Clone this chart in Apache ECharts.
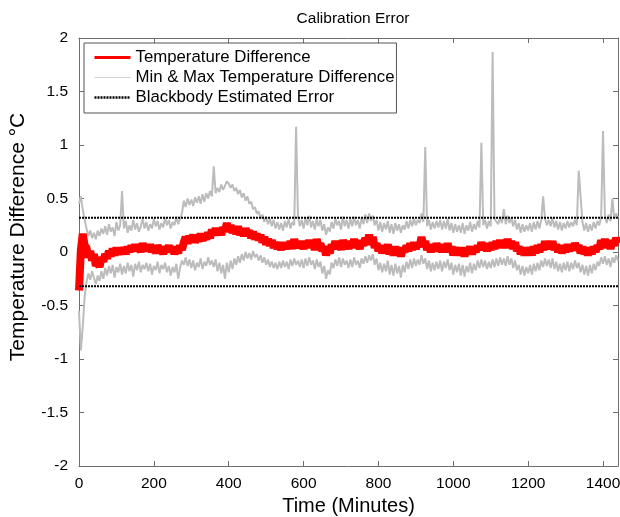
<!DOCTYPE html>
<html>
<head>
<meta charset="utf-8">
<script src="https://cdn.jsdelivr.net/npm/echarts@6/dist/echarts.min.js"></script>
<style>html,body{margin:0;padding:0;background:#fff}#c{width:620px;height:517px}</style>
</head>
<body>
<div id="c"></div>
<script>
// Sampling step of the time axis (minutes)
var timeStep = 5;
var xTicks = [0, 200, 400, 600, 800, 1000, 1200, 1400];
var yTicks = [-2, -1.5, -1, -0.5, 0, 0.5, 1, 1.5, 2];
var blackbodyError = 0.32;

var tempDiff = [
 -0.36, 0.02, 0.17, 0.06, 0.04, -0.05, 0.01, -0.08, -0.02, -0.13, -0.09, -0.14,
 -0.05, -0.09, -0.02, -0.06, 0.01, -0.04, 0.03, -0.03, 0.04, -0.02, 0.03, -0.01,
 0.04, -0.02, 0.05, 0.0, 0.06, 0.01, 0.07, 0.02, 0.05, 0.0, 0.08, 0.02,
 0.06, 0.01, 0.07, 0.0, 0.05, -0.01, 0.06, 0.02, 0.04, -0.02, 0.05, 0.01,
 0.06, 0.0, 0.05, -0.02, 0.04, -0.01, 0.06, 0.02, 0.09, 0.14, 0.08, 0.15,
 0.10, 0.16, 0.09, 0.14, 0.10, 0.17, 0.11, 0.15, 0.12, 0.18, 0.13, 0.21,
 0.16, 0.22, 0.17, 0.21, 0.16, 0.23, 0.19, 0.27, 0.20, 0.25, 0.18, 0.23,
 0.17, 0.24, 0.16, 0.21, 0.15, 0.22, 0.17, 0.20, 0.13, 0.19, 0.12, 0.17,
 0.11, 0.16, 0.09, 0.14, 0.07, 0.12, 0.06, 0.11, 0.04, 0.09, 0.03, 0.08,
 0.02, 0.09, 0.03, 0.08, 0.04, 0.10, 0.03, 0.12, 0.05, 0.10, 0.04, 0.09,
 0.03, 0.10, 0.04, 0.11, 0.05, 0.09, 0.02, 0.12, 0.04, 0.08, 0.01, 0.05,
 -0.03, 0.03, -0.01, 0.07, 0.03, 0.10, 0.04, 0.09, 0.02, 0.11, 0.05, 0.08,
 0.03, 0.10, 0.04, 0.12, 0.05, 0.09, 0.03, 0.11, 0.06, 0.13, 0.07, 0.16,
 0.09, 0.14, 0.04, 0.08, 0.01, 0.06, -0.01, 0.05, 0.0, 0.07, -0.02, 0.04,
 -0.03, 0.05, -0.02, 0.04, -0.04, 0.03, 0.0, 0.06, 0.01, 0.08, 0.02, 0.09,
 0.03, 0.08, 0.05, 0.14, 0.06, 0.10, 0.02, 0.07, 0.0, 0.06, 0.01, 0.08,
 0.02, 0.07, 0.0, 0.06, 0.01, 0.08, 0.0, 0.05, -0.03, 0.04, -0.02, 0.03,
 -0.03, 0.04, -0.04, 0.03, -0.01, 0.05, -0.02, 0.04, 0.0, 0.06, 0.02, 0.09,
 0.03, 0.08, 0.01, 0.07, 0.02, 0.09, 0.03, 0.10, 0.04, 0.11, 0.05, 0.10,
 0.04, 0.12, 0.05, 0.10, 0.03, 0.09, 0.01, 0.05, -0.02, 0.04, -0.03, 0.03,
 -0.02, 0.04, -0.03, 0.05, -0.01, 0.06, 0.0, 0.07, 0.02, 0.10, 0.04, 0.09,
 0.03, 0.10, 0.02, 0.07, 0.0, 0.06, -0.01, 0.05, 0.0, 0.07, 0.01, 0.06,
 0.02, 0.08, 0.03, 0.06, -0.01, 0.05, -0.02, 0.03, -0.03, 0.04, -0.02, 0.05,
 0.0, 0.06, 0.03, 0.11, 0.05, 0.12, 0.04, 0.10, 0.03, 0.11, 0.06, 0.13,
 0.08
];

var maxDiff = [
 0.45, 0.52, 0.40, 0.30, 0.22, 0.15, 0.20, 0.13, 0.18, 0.12, 0.20, 0.15,
 0.22, 0.17, 0.24, 0.16, 0.26, 0.19, 0.23, 0.15, 0.28, 0.20, 0.25, 0.57,
 0.22, 0.29, 0.18, 0.25, 0.20, 0.30, 0.21, 0.27, 0.19, 0.24, 0.31, 0.22,
 0.28, 0.20, 0.26, 0.22, 0.31, 0.24, 0.29, 0.21, 0.27, 0.23, 0.32, 0.25,
 0.30, 0.22, 0.28, 0.25, 0.33, 0.26, 0.31, 0.36, 0.48, 0.42, 0.50, 0.44,
 0.49, 0.43, 0.51, 0.46, 0.52, 0.45, 0.54, 0.47, 0.55, 0.50, 0.57, 0.52,
 0.80, 0.55, 0.60, 0.56, 0.63, 0.58, 0.62, 0.66, 0.64, 0.60, 0.63, 0.57,
 0.60, 0.54, 0.58, 0.51, 0.55, 0.48, 0.52, 0.45, 0.47, 0.40, 0.42, 0.36,
 0.38, 0.31, 0.35, 0.28, 0.33, 0.26, 0.31, 0.24, 0.30, 0.22, 0.28, 0.21,
 0.27, 0.20, 0.29, 0.23, 0.31, 0.22, 0.28, 0.25, 1.17, 0.33, 0.24, 0.30,
 0.22, 0.32, 0.25, 0.34, 0.23, 0.29, 0.21, 0.31, 0.24, 0.30, 0.20, 0.26,
 0.16, 0.23, 0.19, 0.28, 0.22, 0.31, 0.25, 0.29, 0.21, 0.33, 0.24, 0.30,
 0.22, 0.31, 0.24, 0.33, 0.25, 0.30, 0.22, 0.32, 0.26, 0.35, 0.27, 0.36,
 0.29, 0.34, 0.25, 0.30, 0.20, 0.28, 0.19, 0.27, 0.21, 0.29, 0.18, 0.26,
 0.17, 0.27, 0.20, 0.26, 0.18, 0.25, 0.21, 0.29, 0.22, 0.30, 0.24, 0.31,
 0.25, 0.30, 0.27, 0.36, 0.28, 0.98, 0.24, 0.30, 0.21, 0.28, 0.22, 0.29,
 0.23, 0.30, 0.21, 0.29, 0.22, 0.31, 0.20, 0.27, 0.18, 0.26, 0.19, 0.25,
 0.18, 0.27, 0.17, 0.25, 0.20, 0.28, 0.19, 0.26, 0.21, 0.29, 0.23, 1.02,
 0.25, 0.30, 0.22, 0.29, 0.24, 1.87, 0.31, 0.32, 0.26, 0.33, 0.27, 0.40,
 0.26, 0.34, 0.27, 0.32, 0.24, 0.30, 0.21, 0.27, 0.18, 0.26, 0.19, 0.25,
 0.20, 0.27, 0.19, 0.28, 0.21, 0.29, 0.22, 0.30, 0.52, 0.31, 0.25, 0.30,
 0.24, 0.32, 0.23, 0.29, 0.21, 0.28, 0.20, 0.27, 0.22, 0.29, 0.23, 0.28,
 0.24, 0.30, 0.25, 0.76, 0.75, 0.28, 0.20, 0.27, 0.19, 0.26, 0.20, 0.28,
 0.22, 0.29, 0.25, 0.33, 1.13, 0.34, 0.27, 0.35, 0.29, 0.50, 0.31, 0.36,
 0.32
];

var minDiff = [
 -0.55, -0.92, -0.70, -0.42, -0.28, -0.20, -0.26, -0.18, -0.24, -0.30, -0.22, -0.27,
 -0.18, -0.25, -0.15, -0.22, -0.13, -0.20, -0.12, -0.24, -0.14, -0.19, -0.11, -0.21,
 -0.13, -0.20, -0.10, -0.18, -0.12, -0.23, -0.11, -0.17, -0.09, -0.19, -0.12, -0.16,
 -0.10, -0.18, -0.11, -0.21, -0.13, -0.17, -0.09, -0.20, -0.12, -0.16, -0.10, -0.19,
 -0.13, -0.22, -0.14, -0.19, -0.11, -0.25, -0.15, -0.08, -0.12, -0.05, -0.13, -0.07,
 -0.15, -0.08, -0.17, -0.10, -0.14, -0.06, -0.16, -0.09, -0.13, -0.05, -0.12, -0.08,
 -0.14, -0.07, -0.18, -0.10, -0.20, -0.12, -0.25, -0.10, -0.19, -0.08, -0.16, -0.06,
 -0.12, -0.04, -0.10, -0.02, -0.08, 0.0, -0.06, -0.01, -0.07, 0.01, -0.05, -0.02,
 -0.08, -0.03, -0.10, -0.05, -0.12, -0.07, -0.14, -0.09, -0.15, -0.10, -0.16, -0.09,
 -0.15, -0.08, -0.14, -0.09, -0.16, -0.07, -0.13, -0.06, -0.12, -0.08, -0.14, -0.07,
 -0.15, -0.06, -0.13, -0.05, -0.12, -0.08, -0.16, -0.07, -0.14, -0.09, -0.20, -0.13,
 -0.25, -0.17, -0.21, -0.10, -0.15, -0.07, -0.13, -0.05, -0.14, -0.06, -0.12, -0.08,
 -0.15, -0.07, -0.14, -0.05, -0.12, -0.08, -0.15, -0.06, -0.11, -0.04, -0.10, -0.03,
 -0.08, -0.02, -0.12, -0.06, -0.17, -0.10, -0.19, -0.11, -0.18, -0.08, -0.21, -0.12,
 -0.22, -0.11, -0.20, -0.13, -0.24, -0.12, -0.19, -0.09, -0.16, -0.07, -0.15, -0.06,
 -0.13, -0.07, -0.12, -0.03, -0.11, -0.06, -0.16, -0.08, -0.18, -0.10, -0.17, -0.09,
 -0.16, -0.08, -0.18, -0.09, -0.15, -0.07, -0.17, -0.10, -0.21, -0.12, -0.19, -0.11,
 -0.22, -0.12, -0.23, -0.13, -0.19, -0.10, -0.20, -0.11, -0.17, -0.08, -0.15, -0.07,
 -0.14, -0.08, -0.16, -0.09, -0.15, -0.07, -0.14, -0.06, -0.13, -0.05, -0.12, -0.06,
 -0.13, -0.04, -0.12, -0.06, -0.15, -0.08, -0.17, -0.12, -0.21, -0.13, -0.22, -0.14,
 -0.20, -0.12, -0.21, -0.11, -0.18, -0.10, -0.17, -0.08, -0.14, -0.06, -0.13, -0.07,
 -0.15, -0.06, -0.16, -0.09, -0.18, -0.11, -0.19, -0.10, -0.17, -0.09, -0.18, -0.10,
 -0.16, -0.08, -0.15, -0.10, -0.19, -0.12, -0.21, -0.13, -0.22, -0.12, -0.20, -0.11,
 -0.17, -0.09, -0.13, -0.05, -0.11, -0.04, -0.12, -0.06, -0.14, -0.05, -0.10, -0.03,
 -0.08
];

function pairs(arr) {
  return arr.map(function (v, i) { return [i * timeStep, v]; });
}
var tEnd = (tempDiff.length - 1) * timeStep;

var FONT = '"Liberation Sans", Arial, Helvetica, sans-serif';
var axisCol = '#6e6e6e';

var chart = echarts.init(document.getElementById('c'), null, {renderer: 'canvas'});
var grayStyle = {color: '#bcbcbc', width: 2};
function plain(v) { return String(v); }
var option = {
  animation: false,
  backgroundColor: '#fff',
  title: {
    text: 'Calibration Error',
    left: 348, top: 6, textAlign: 'center',
    textStyle: {fontFamily: FONT, fontSize: 15.5, fontWeight: 'normal', color: '#000'}
  },
  graphic: [{
    type: 'text', x: 18, y: 237, rotation: Math.PI / 2,
    style: {text: 'Temperature Difference °C', font: '21px ' + FONT, fill: '#000',
            align: 'center', verticalAlign: 'middle'},
    z: 10
  }],
  legend: {
    left: 84, top: 43, orient: 'vertical',
    data: [
      {name: 'Temperature Difference', lineStyle: {width: 3, color: '#ff0000'}},
      {name: 'Min & Max Temperature Difference', lineStyle: {width: 1, color: '#d0d0d0'}},
      {name: 'Blackbody Estimated Error', lineStyle: {width: 2.5, color: '#000', type: [2, 1]}}
    ],
    itemWidth: 36, itemHeight: 14, itemGap: 3,
    padding: [6, 2, 7, 9],
    itemStyle: {opacity: 0},
    backgroundColor: '#fff', borderColor: '#555', borderWidth: 1,
    textStyle: {fontFamily: FONT, fontSize: 16.8, color: '#000'},
    selectedMode: false
  },
  grid: {left: 79, right: 2, top: 38, bottom: 51, containLabel: false, outerBoundsMode: 'none'},
  xAxis: [{
    type: 'value', min: 0, max: 1440, interval: 200,
    name: 'Time (Minutes)', nameLocation: 'middle', nameGap: 29,
    nameTextStyle: {fontFamily: FONT, fontSize: 20, color: '#000'},
    axisLine: {show: true, onZero: false, lineStyle: {color: axisCol, width: 1}},
    axisTick: {show: true, inside: true, length: 5, lineStyle: {color: axisCol}},
    axisLabel: {fontFamily: FONT, fontSize: 15.5, color: '#000', margin: 10, showMaxLabel: false, formatter: plain},
    splitLine: {show: false}
  }, {
    type: 'value', min: 0, max: 1440, interval: 200, position: 'top',
    axisLine: {show: true, onZero: false, lineStyle: {color: axisCol, width: 1}},
    axisTick: {show: true, inside: true, length: 5, lineStyle: {color: axisCol}},
    axisLabel: {show: false}, splitLine: {show: false}
  }],
  yAxis: [{
    type: 'value', min: -2, max: 2, interval: 0.5,
    axisLine: {show: true, onZero: false, lineStyle: {color: axisCol, width: 1}},
    axisTick: {show: true, inside: true, length: 5, lineStyle: {color: axisCol}},
    axisLabel: {fontFamily: FONT, fontSize: 15.5, color: '#000', margin: 11, formatter: plain},
    splitLine: {show: false}
  }, {
    type: 'value', min: -2, max: 2, interval: 0.5, position: 'right',
    axisLine: {show: true, onZero: false, lineStyle: {color: axisCol, width: 1}},
    axisTick: {show: true, inside: true, length: 5, lineStyle: {color: axisCol}},
    axisLabel: {show: false}, splitLine: {show: false}
  }],
  series: [
    {name: 'Min & Max Temperature Difference', type: 'line', data: pairs(maxDiff),
     symbol: 'none', lineStyle: grayStyle, itemStyle: {color: '#c8c8c8'}, z: 1},
    {name: 'Min & Max Temperature Difference', type: 'line', data: pairs(minDiff),
     symbol: 'none', lineStyle: grayStyle, itemStyle: {color: '#c8c8c8'}, z: 1},
    {name: 'Temperature Difference', type: 'line', data: pairs(tempDiff),
     symbol: 'none', lineStyle: {color: '#ff0000', width: 8}, itemStyle: {color: '#ff0000'}, z: 3},
    {name: 'Blackbody Estimated Error', type: 'line',
     data: [[0, blackbodyError], [tEnd, blackbodyError]],
     symbol: 'none', lineStyle: {color: '#000', width: 2, type: [2, 1]}, itemStyle: {color: '#000'}, z: 4},
    {name: 'Blackbody Estimated Error', type: 'line',
     data: [[0, -blackbodyError], [tEnd, -blackbodyError]],
     symbol: 'none', lineStyle: {color: '#000', width: 2, type: [2, 1]}, itemStyle: {color: '#000'}, z: 4}
  ]
};
chart.setOption(option);
</script>
</body>
</html>
